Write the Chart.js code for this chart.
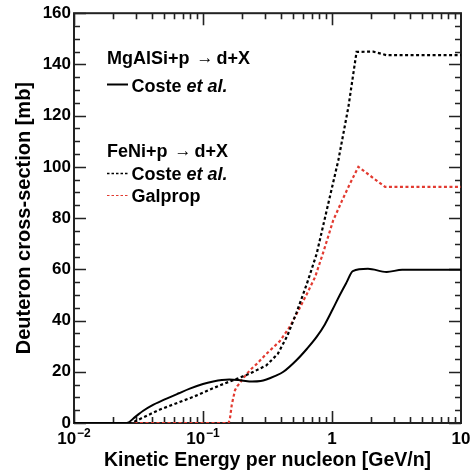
<!DOCTYPE html>
<html><head><meta charset="utf-8">
<script src="https://cdn.jsdelivr.net/npm/chart.js@4/dist/chart.umd.min.js"></script>
<style>html,body{margin:0;padding:0;background:#fff;}#wrap{width:474px;height:476px;}</style>
</head><body><div id="wrap"><canvas id="c" width="474" height="476"></canvas></div>
<script>
// ---- data ----
const mgEnergy = [0.01, 0.0256, 0.03, 0.0344, 0.04, 0.05, 0.065, 0.079, 0.1, 0.12, 0.14, 0.16, 0.2, 0.24, 0.28, 0.31, 0.36, 0.42, 0.53, 0.64, 0.76, 0.88, 1.01, 1.15, 1.3, 1.45, 1.9, 2.65, 3.5, 10];
const mgCoste  = [0, 0, 2.5, 4.8, 6.8, 9.1, 11.6, 13.4, 15.2, 16.2, 16.8, 17, 16.6, 16.2, 16.4, 17, 18.3, 20, 24.5, 29, 33.6, 38.5, 44.3, 50, 55, 59.3, 60.2, 59, 59.8, 59.8];

const feCosteEnergy = [0.01, 0.028, 0.046, 0.084, 0.135, 0.188, 0.231, 0.31, 0.38, 0.45, 0.53, 0.64, 0.76, 0.9, 1.12, 1.34, 1.55, 2.09, 2.65, 10];
const feCoste       = [0, 0, 5.2, 10.2, 14.7, 17.5, 19.3, 22.5, 27, 34, 43, 54.5, 66, 82, 102.6, 123.4, 144.9, 145, 143.6, 143.6];

const feGalpropEnergy = [0.01, 0.158, 0.162, 0.167, 0.172, 0.177, 0.185, 0.193, 0.2, 0.231, 0.26, 0.31, 0.395, 0.47, 0.55, 0.64, 0.74, 0.86, 1.02, 1.2, 1.38, 1.6, 2.58, 10];
const feGalprop       = [0, 0, 2, 7, 10, 12.8, 14.5, 15.5, 16.8, 20.6, 23, 27, 32, 37.5, 44, 50.5, 57, 67, 79, 87, 93.5, 100, 92.2, 92.2];

const xTickValues = [0.01, 0.1, 1, 10];
const xTickBases = ["10", "10", "1", "10"];
const xTickExponents = ["\u22122", "\u22121", "", ""];
const yMin = 0, yMax = 160, yStep = 20;

const xTitle = "Kinetic Energy per nucleon [GeV/n]";
const yTitle = "Deuteron cross-section [mb]";
const legendGroups = [
  {reaction: ["MgAlSi+p", "d+X"], entries: [{label: "Coste", italic: " et al.", style: "solid"}]},
  {reaction: ["FeNi+p", "d+X"], entries: [{label: "Coste", italic: " et al.", style: "black"}, {label: "Galprop", italic: "", style: "red"}]}
];

const RED = '#e23a30';
const FONT = "'Liberation Sans', Arial, Helvetica, sans-serif";

function pts(xs, ys) { return xs.map((x, i) => ({x: x, y: ys[i]})); }

const decorPlugin = {
  id: 'rootDecor',
  beforeDatasetsDraw(chart) {
    const {ctx, chartArea: a, scales: {x, y}} = chart;
    ctx.save();
    ctx.strokeStyle = '#222';
    ctx.lineWidth = 2;
    ctx.strokeRect(a.left, a.top, a.right - a.left, a.bottom - a.top);
    ctx.lineWidth = 1.6;
    ctx.beginPath();
    for (let v = yMin; v <= yMax; v += 5) {
      const py = Math.round(y.getPixelForValue(v)) + 0.5;
      const len = (v % yStep === 0) ? 12 : 6;
      ctx.moveTo(a.left, py); ctx.lineTo(a.left + len, py);
      ctx.moveTo(a.right, py); ctx.lineTo(a.right - len, py);
    }
    for (let d = 0.01; d < 10; d *= 10) {
      for (let m = 1; m <= 9; m++) {
        const v = d * m;
        const px = Math.round(x.getPixelForValue(v)) + 0.5;
        const len = (m === 1) ? 12 : 6;
        ctx.moveTo(px, a.bottom); ctx.lineTo(px, a.bottom - len);
        ctx.moveTo(px, a.top); ctx.lineTo(px, a.top + len);
      }
    }
    ctx.stroke();
    // x tick labels with superscript exponents
    ctx.fillStyle = '#000';
    ctx.textBaseline = 'alphabetic';
    xTickValues.forEach((v, i) => {
      const px = x.getPixelForValue(v);
      ctx.font = 'bold 17px ' + FONT;
      const wb = ctx.measureText(xTickBases[i]).width;
      ctx.font = 'bold 12px ' + FONT;
      const we = xTickExponents[i] ? ctx.measureText(xTickExponents[i]).width + 1 : 0;
      const x0 = px - (wb + we) / 2;
      ctx.font = 'bold 17px ' + FONT;
      ctx.textAlign = 'left';
      ctx.fillText(xTickBases[i], x0, 443.5);
      if (xTickExponents[i]) {
        ctx.font = 'bold 12px ' + FONT;
        ctx.fillText(xTickExponents[i], x0 + wb + 1, 436.5);
      }
    });
    ctx.restore();
  },
  afterDatasetsDraw(chart) {
    const {ctx} = chart;
    ctx.save();
    ctx.fillStyle = '#000';
    ctx.textBaseline = 'alphabetic';
    ctx.textAlign = 'left';
    const lx = 107;
    const rows = [
      {type: 'reaction', g: 0, base: 63.5},
      {type: 'entry', g: 0, e: 0, base: 91.5, ly: 84.5},
      {type: 'reaction', g: 1, base: 156.5},
      {type: 'entry', g: 1, e: 0, base: 180, ly: 173.5},
      {type: 'entry', g: 1, e: 1, base: 201.5, ly: 195.5}
    ];
    rows.forEach(r => {
      const g = legendGroups[r.g];
      if (r.type === 'reaction') {
        ctx.font = 'bold 18px ' + FONT;
        ctx.fillText(g.reaction[0], lx, r.base);
        let xx = lx + ctx.measureText(g.reaction[0]).width + 7;
        ctx.font = '17px ' + FONT;
        ctx.fillText('\u2192', xx, r.base - 1);
        xx += ctx.measureText('\u2192').width + 3;
        ctx.font = 'bold 18px ' + FONT;
        ctx.fillText(g.reaction[1], xx, r.base);
      } else {
        const e = g.entries[r.e];
        ctx.beginPath();
        ctx.lineWidth = 2;
        if (e.style === 'solid') { ctx.setLineDash([]); ctx.strokeStyle = '#000'; }
        else if (e.style === 'black') { ctx.setLineDash([2.5, 2]); ctx.strokeStyle = '#000'; ctx.lineWidth = 1.6; }
        else { ctx.setLineDash([2.5, 2]); ctx.strokeStyle = RED; ctx.lineWidth = 1.2; }
        ctx.moveTo(lx, r.ly); ctx.lineTo(lx + 21, r.ly);
        ctx.stroke();
        ctx.setLineDash([]);
        const tx = 131.5;
        ctx.font = 'bold 18px ' + FONT;
        ctx.fillText(e.label, tx, r.base);
        if (e.italic) {
          const w = ctx.measureText(e.label).width;
          ctx.font = 'italic bold 18px ' + FONT;
          ctx.fillText(e.italic, tx + w, r.base);
        }
      }
    });
    ctx.restore();
  }
};

new Chart(document.getElementById('c'), {
  type: 'line',
  data: {
    datasets: [
      {label: 'MgAlSi+p \u2192 d+X, Coste et al.', data: pts(mgEnergy, mgCoste), borderColor: '#000', borderWidth: 2, pointRadius: 0, cubicInterpolationMode: 'monotone', fill: false},
      {label: 'FeNi+p \u2192 d+X, Coste et al.', data: pts(feCosteEnergy, feCoste), borderColor: '#000', borderWidth: 2.2, borderDash: [3, 2.5], pointRadius: 0, tension: 0, fill: false},
      {label: 'FeNi+p \u2192 d+X, Galprop', data: pts(feGalpropEnergy, feGalprop), borderColor: RED, borderWidth: 2.2, borderDash: [3, 2.5], pointRadius: 0, tension: 0, fill: false}
    ]
  },
  options: {
    responsive: false,
    animation: false,
    layout: {padding: {top: 12, right: 13, left: 0, bottom: 0}},
    plugins: {legend: {display: false}, tooltip: {enabled: false}},
    scales: {
      x: {
        type: 'logarithmic', min: 0.01, max: 10,
        grid: {display: false, drawTicks: false}, border: {display: false},
        ticks: {display: false},
        afterBuildTicks: s => { s.ticks = xTickValues.map(v => ({value: v})); },
        afterFit: s => { s.height = 53; },
        title: {display: true, text: xTitle, color: '#000', font: {family: FONT, size: 19.5, weight: 'bold'}, padding: {top: 0, bottom: 4}}
      },
      y: {
        min: yMin, max: yMax,
        grid: {display: false, drawTicks: false}, border: {display: false},
        ticks: {stepSize: yStep, color: '#000', padding: 3, font: {family: FONT, size: 17, weight: 'bold'}},
        afterFit: s => { s.width = 74; },
        title: {display: true, text: yTitle, color: '#000', font: {family: FONT, size: 20, weight: 'bold'}, padding: {top: 12, bottom: 0}}
      }
    }
  },
  plugins: [decorPlugin]
});
</script>
</body></html>
